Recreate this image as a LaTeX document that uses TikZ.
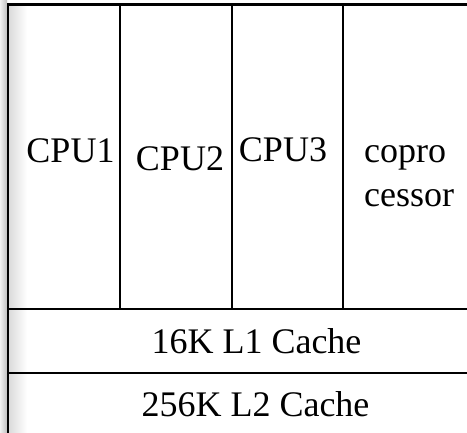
\documentclass[tikz,border=0pt]{standalone}
\usepackage{fontspec}
\setmainfont{Liberation Serif}
\begin{document}
\begin{tikzpicture}[x=1pt,y=-1pt,
  lbl/.style={inner sep=0pt,font=\fontsize{36}{43}\selectfont},
  rule/.style={line width=2pt,black}]
\useasboundingbox (0,0) rectangle (467,433);
\fill[white] (0,0) rectangle (467,433);
% left shaded strips
\shade[left color=black!6,right color=black!25] (0,0) rectangle (7,433);
\shade[left color=black!14,right color=white] (9,5.5) rectangle (27,433);
% frame lines
\draw[line width=2.5pt] (8,433) -- (8,4.7) -- (467,4.7);
\draw[rule] (8,309) -- (467,309);
\draw[rule] (8,373) -- (467,373);
\draw[rule] (120,4.7) -- (120,309);
\draw[rule] (232,4.7) -- (232,309);
\draw[rule] (343,4.7) -- (343,309);
% labels
\node[lbl,anchor=base] (cpu1) at (70.5,163) {CPU1};
\node[lbl,anchor=base] (cpu2) at (180,171) {CPU2};
\node[lbl,anchor=base] (cpu3) at (283,162) {CPU3};
\node[lbl,anchor=base west] (copro) at (364,163) {copro};
\node[lbl,anchor=base west] (cessor) at (364,207) {cessor};
\node[lbl,anchor=base] (l1) at (256.5,354) {16K L1 Cache};
\node[lbl,anchor=base] (l2) at (255.5,417) {256K L2 Cache};
\end{tikzpicture}
\end{document}
